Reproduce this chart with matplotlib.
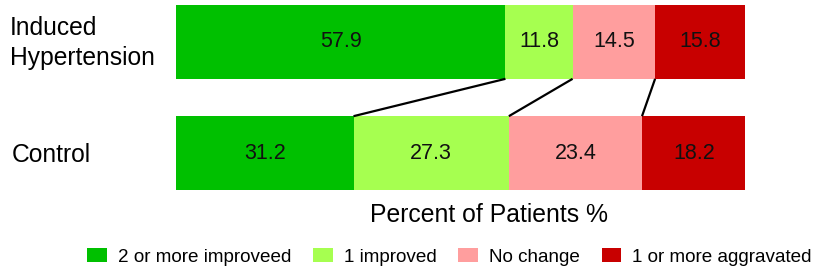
import matplotlib
matplotlib.use("Agg")
import matplotlib.pyplot as plt
import numpy as np
from matplotlib.patches import Patch

plt.rcParams["font.family"] = ["Liberation Sans", "DejaVu Sans"]

groups = ["Induced\nHypertension", "Control"]
categories = ["2 or more improveed", "1 improved", "No change", "1 or more aggravated"]
induced = [57.9, 11.8, 14.5, 15.8]
control = [31.2, 27.3, 23.4, 18.2]
colors = ["#00C000", "#A6FF50", "#FF9E9E", "#C80000"]

BAR_H = 0.664

fig = plt.figure(figsize=(8.13, 2.71), dpi=100)
ax = fig.add_axes([176 / 813, 1 - 190 / 271, 569 / 813, 185 / 271])

rows = [induced, control]
ypos = [1, 0]
for vals, y in zip(rows, ypos):
    left = 0.0
    for v, c in zip(vals, colors):
        ax.barh(y, v, left=left, height=BAR_H, color=c, edgecolor="none")
        ax.text(left + v / 2, y, f"{v:.1f}", ha="center", va="center", fontsize=15.5, color="#111111")
        left += v

# connector lines between cumulative boundaries
cum_top = np.cumsum(induced)[:-1]
cum_bot = np.cumsum(control)[:-1]
for xt, xb in zip(cum_top, cum_bot):
    ax.plot([xt, xb], [1 - BAR_H / 2, BAR_H / 2], color="black", lw=1.6, solid_capstyle="butt")

ax.set_xlim(0, 100)
ax.set_ylim(-BAR_H / 2, 1 + BAR_H / 2)
ax.axis("off")

fig.text(10 / 813, 1 - 43 / 271, groups[0], ha="left", va="center", fontsize=17.7, linespacing=1.28)
fig.text(12 / 813, 1 - 155 / 271, groups[1], ha="left", va="center", fontsize=17.7)
fig.text(489 / 813, 1 - 215 / 271, "Percent of Patients %", ha="center", va="center", fontsize=17.8)

handles = [Patch(facecolor=c, edgecolor="none") for c in colors]
fig.legend(handles, categories, loc="center left", bbox_to_anchor=(87 / 813, 1 - 257 / 271), ncol=4,
           frameon=False, fontsize=13.6, handlelength=1.05, handleheight=0.74, handletextpad=0.58,
           columnspacing=1.15, borderpad=0, borderaxespad=0)

fig.savefig("out.png", dpi=100)
